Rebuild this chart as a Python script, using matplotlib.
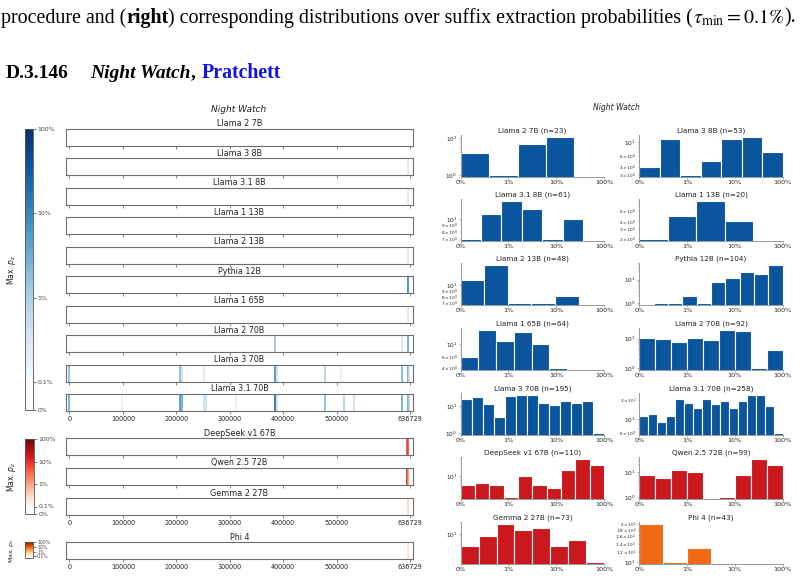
import numpy as np
import matplotlib.pyplot as plt
from matplotlib.colors import ListedColormap, SymLogNorm
from matplotlib.cm import ScalarMappable
from matplotlib.ticker import NullLocator

W, H = 803, 579
BOOK_LEN = 636729

# ---- left figure: max p_z at each extracted position ----
left_models = ["Llama 2 7B", "Llama 3 8B", "Llama 3.1 8B", "Llama 1 13B", "Llama 2 13B",
               "Pythia 12B", "Llama 1 65B", "Llama 2 70B", "Llama 3 70B", "Llama 3.1 70B",
               "DeepSeek v1 67B", "Qwen 2.5 72B", "Gemma 2 27B", "Phi 4"]
left_pos = [
    [],
    [633000],
    [633000],
    [],
    [633000],
    [633000],
    [633000],
    [384100, 622300, 633000],
    [0, 207700, 211400, 252700, 384100, 387800, 477900, 507900, 622300, 633000, 635500],
    [0, 99000, 207700, 211400, 252700, 256500, 312000, 384100, 387800, 477900, 513500,
     532300, 622300, 633000, 635500],
    [632000, 633500],
    [632500, 634000],
    [633000],
    [633000],
]
left_val = [
    [],
    [0.003],
    [0.003],
    [],
    [0.003],
    [0.15],
    [0.003],
    [0.02, 0.005, 0.05],
    [0.03, 0.03, 0.005, 0.003, 0.12, 0.005, 0.01, 0.002, 0.03, 0.05, 0.005],
    [0.05, 0.002, 0.1, 0.05, 0.006, 0.005, 0.002, 0.4, 0.005, 0.03, 0.01,
     0.005, 0.05, 0.05, 0.01],
    [0.08, 0.08],
    [0.3, 0.02],
    [0.003],
    [0.003],
]
xticks = [0, 100000, 200000, 300000, 400000, 500000, BOOK_LEN]

# ---- right figure: histograms of suffix extraction probabilities ----
hist_models = left_models
hist_n = [23, 53, 61, 20, 48, 104, 64, 92, 195, 258, 110, 99, 73, 43]
hist_lo = [-3] * 14
hist_hi = [-0.62, 0, -0.44, -0.61, -0.53, 0, -0.77, 0, 0, 0, 0, 0, 0, 0]
hist_counts = [
    [4, 1, 7, 11],
    [4, 11, 3, 5, 11, 12, 7],
    [7, 11, 14, 12, 7, 10],
    [2, 5, 9, 4],
    [11, 15, 7, 7, 8],
    [0, 1, 1, 2, 1, 8, 12, 20, 17, 42],
    [6, 17, 11, 16, 10, 4],
    [11, 10, 8, 11, 9, 20, 18, 1, 4],
    [18, 21, 12, 4, 23, 25, 24, 13, 11, 15, 13, 15, 1],
    [11, 12, 9, 11, 21, 18, 15, 21, 17, 19, 15, 19, 24, 24, 16, 6],
    [5, 6, 5, 2, 10, 5, 4, 15, 36, 22],
    [8, 6, 12, 10, 0, 1, 8, 35, 19],
    [5, 9, 18, 13, 14, 5, 7, 2],
    [20, 10, 13, 0, 0, 0],
]
family_of = ["blue"] * 10 + ["red"] * 3 + ["orange"]
bar_color = {"blue": "#0b559f", "red": "#cb181d", "orange": "#f16913"}
cmap_name = {"blue": "Blues", "red": "Reds", "orange": "Oranges"}


def make_cmap(name):
    base = plt.get_cmap(name)(np.linspace(0, 1, 230))
    white = np.ones((26, 4))
    return ListedColormap(np.vstack([white, base]))


cmaps = {k: make_cmap(v) for k, v in cmap_name.items()}
norm = SymLogNorm(linthresh=1e-3, linscale=0.3, vmin=0, vmax=1, base=10)

fig = plt.figure(figsize=(W / 100, H / 100), dpi=100)


def add_px_axes(x0, y0, w, h):
    return fig.add_axes([x0 / W, 1 - (y0 + h) / H, w / W, h / H])


# ---- page text ----
renderer = fig.canvas.get_renderer()


def write_run(x_px, y_px, pieces, **common):
    x = x_px
    for s, kw in pieces:
        t = fig.text(x / W, 1 - y_px / H, s, va="center", ha="left", **common, **kw)
        x += t.get_window_extent(renderer=renderer).width
    return x


serif = "Liberation Serif"
write_run(1, 18, [
    ("procedure and (", {}),
    ("right", {"weight": "bold"}),
    (") corresponding distributions over suffix extraction probabilities (", {}),
    (r"$\tau_{\min} = 0.1\%$", {"math_fontfamily": "stix"}),
    (").", {}),
], family=serif, fontsize=14.4, color="black")

fig.text(6 / W, 1 - 73 / H, "D.3.146", family=serif, fontsize=14, weight="bold", va="center")
end = write_run(90, 73, [("Night Watch", {"style": "italic"}), (",", {})],
                family=serif, fontsize=14, weight="bold", color="black")
fig.text((end + 6) / W, 1 - 73 / H, "Pratchett", family=serif, fontsize=14.3,
         weight="bold", color="#1212e6", va="center")

# ---- left figure ----
fig.text(239 / W, 1 - 109 / H, "Night Watch", style="italic", fontsize=6.5,
         ha="center", va="center", color="#222222")

row_tops = list(129 + 29.44 * np.arange(10)) + [438, 468, 498, 542]
last_in_group = {9, 12, 13}
for i, name in enumerate(left_models):
    ax = add_px_axes(66, row_tops[i], 347, 17)
    fam = family_of[i]
    ax.set_xlim(-0.01 * BOOK_LEN, 1.01 * BOOK_LEN)
    ax.set_ylim(0, 1)
    ax.set_yticks([])
    if left_pos[i]:
        ax.vlines(left_pos[i], 0, 1, colors=cmaps[fam](norm(np.array(left_val[i]))), lw=1.1)
    ax.set_xticks(xticks)
    if i in last_in_group:
        ax.set_xticklabels([str(t) for t in xticks])
    else:
        ax.set_xticklabels([])
    ax.tick_params(axis="x", labelsize=4.7, length=2, width=0.5, pad=1.5,
                   colors="#555555", labelcolor="#222222")
    for sp in ax.spines.values():
        sp.set_color("#6e6e6e")
        sp.set_linewidth(0.8)
    ax.set_title(name, fontsize=5.8, pad=1.8, color="#222222")

cbar_boxes = [("blue", 25, 129, 8, 281, 270, 5.5, 4.5),
              ("red", 25, 439, 9, 75, 477, 5.5, 4.5),
              ("orange", 25, 542, 8, 16, 550, 4.5, 3.3)]
cbar_ticks = [0, 1e-3, 1e-2, 1e-1, 1]
cbar_labels = ["0%", "0.1%", "1%", "10%", "100%"]
for fam, x0, y0, w, h, ylab, lab_fs, tick_fs in cbar_boxes:
    cax = add_px_axes(x0, y0, w, h)
    cb = fig.colorbar(ScalarMappable(norm=norm, cmap=cmaps[fam]), cax=cax)
    if fam == "orange":
        cb.set_ticks(cbar_ticks[1:])
        cb.set_ticklabels(cbar_labels[1:])
    else:
        cb.set_ticks(cbar_ticks)
        cb.set_ticklabels(cbar_labels)
    cb.ax.minorticks_off()
    cb.ax.tick_params(labelsize=tick_fs, length=2, width=0.5, pad=1, colors="#444444")
    cb.outline.set_edgecolor("#555555")
    cb.outline.set_linewidth(0.6)
    fig.text(12 / W, 1 - ylab / H, "Max. $p_z$", rotation=90, ha="center", va="center",
             fontsize=lab_fs, color="#222222")

# ---- right figure ----
fig.text(616 / W, 1 - 107 / H, "Night Watch", style="italic", fontsize=5.5,
         ha="center", va="center", color="#222222")

col_x = [460.7, 639.3]
hist_tops = [135, 199, 263, 328, 393, 457, 522]
for i, name in enumerate(hist_models):
    r, c = divmod(i, 2)
    ax = add_px_axes(col_x[c], hist_tops[r], 143.3, 42)
    counts = np.array(hist_counts[i])
    edges = 10 ** np.linspace(hist_lo[i], hist_hi[i], len(counts) + 1)
    ax.bar(edges[:-1], counts, width=np.diff(edges), align="edge",
           color=bar_color[family_of[i]], edgecolor="white", linewidth=0.8, log=True)
    ax.set_xscale("log")
    ax.set_xlim(1e-3, 1)
    pos = counts[counts > 0]
    m = 0.05 * np.log10(pos.max() / pos.min())
    ax.set_ylim(pos.min() / 10 ** m, pos.max() * 10 ** m)
    ax.set_xticks([1e-3, 1e-2, 1e-1, 1])
    ax.set_xticklabels(["0%", "1%", "10%", "100%"])
    ax.xaxis.set_minor_locator(NullLocator())
    ax.tick_params(axis="x", labelsize=4.6, length=1.5, width=0.4, pad=1,
                   colors="#777777", labelcolor="#222222")
    ax.tick_params(axis="y", which="major", labelsize=4.2, length=1.5, width=0.4, pad=1,
                   colors="#777777", labelcolor="#222222")
    ax.tick_params(axis="y", which="minor", labelsize=3.1, length=1, width=0.3, pad=1,
                   colors="#777777", labelcolor="#222222")
    ax.spines["top"].set_visible(False)
    ax.spines["right"].set_visible(False)
    for s in ("left", "bottom"):
        ax.spines[s].set_color("#8a8a8a")
        ax.spines[s].set_linewidth(0.6)
    ax.set_title(f"{name} (n={hist_n[i]})", fontsize=5.2, pad=1.5, color="#222222")

fig.savefig("out.png", dpi=100)
